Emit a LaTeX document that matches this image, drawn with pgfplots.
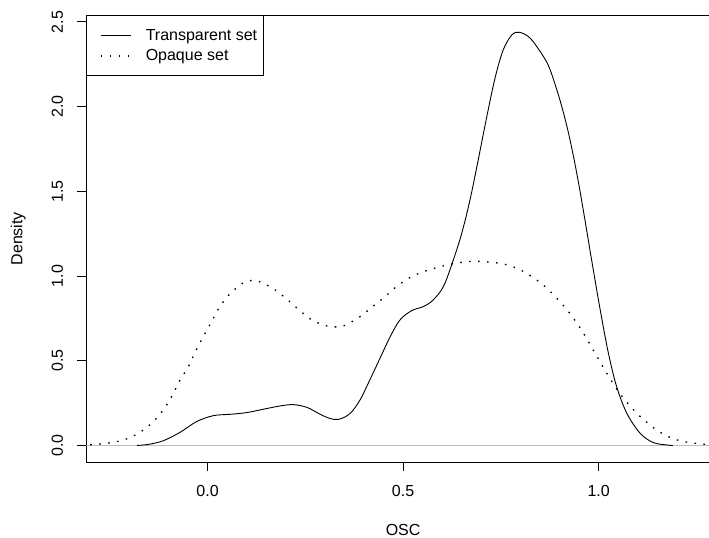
\documentclass[border=0pt]{standalone}
\usepackage{fontspec}
\setmainfont{Liberation Sans}
\usepackage{pgfplots}
\pgfplotsset{compat=1.18}
\newcommand{\fs}{\fontsize{16bp}{19bp}\selectfont}
\pgfplotstableread{
x y
-0.180 0.000
-0.150 0.007
-0.113 0.028
-0.070 0.078
-0.028 0.141
0.015 0.176
0.058 0.184
0.100 0.194
0.143 0.214
0.185 0.233
0.219 0.241
0.254 0.225
0.288 0.184
0.312 0.160
0.335 0.154
0.364 0.188
0.390 0.269
0.415 0.387
0.441 0.515
0.467 0.642
0.492 0.741
0.522 0.796
0.552 0.820
0.577 0.859
0.603 0.938
0.627 1.085
0.650 1.253
0.671 1.449
0.692 1.685
0.714 1.941
0.735 2.168
0.756 2.335
0.778 2.423
0.797 2.439
0.825 2.404
0.859 2.295
0.876 2.217
0.901 2.039
0.923 1.843
0.944 1.607
0.965 1.331
0.982 1.095
1.004 0.800
1.025 0.544
1.046 0.347
1.072 0.190
1.106 0.072
1.140 0.017
1.178 0.002
1.190 0.000
}\transparent
\pgfplotstableread{
x y
-0.300 0.004
-0.258 0.013
-0.215 0.032
-0.177 0.072
-0.143 0.131
-0.113 0.210
-0.092 0.288
-0.070 0.387
-0.049 0.465
-0.032 0.550
-0.011 0.642
0.009 0.725
0.030 0.814
0.056 0.892
0.088 0.955
0.109 0.973
0.130 0.969
0.168 0.926
0.202 0.865
0.234 0.800
0.268 0.739
0.306 0.705
0.328 0.700
0.349 0.707
0.386 0.754
0.420 0.816
0.454 0.879
0.485 0.941
0.522 0.997
0.560 1.032
0.603 1.060
0.646 1.080
0.688 1.087
0.748 1.075
0.791 1.046
0.829 0.997
0.863 0.938
0.893 0.869
0.923 0.790
0.957 0.678
0.991 0.544
1.025 0.410
1.059 0.292
1.102 0.180
1.148 0.092
1.187 0.043
1.225 0.020
1.272 0.007
1.310 0.002
}\opaque
\begin{document}
\begin{tikzpicture}
\useasboundingbox (0,0) rectangle (709bp,538bp);
\begin{axis}[
  at={(86.3bp,76bp)}, anchor=south west,
  scale only axis, width=633.6bp, height=446.5bp,
  xmin=-0.31, xmax=1.31, ymin=-0.0976, ymax=2.538,
  axis line style={line width=0.9bp},
  xtick={0,0.5,1}, xticklabels={0.0,0.5,1.0},
  ytick={0,0.5,1,1.5,2,2.5}, yticklabels={0.0,0.5,1.0,1.5,2.0,2.5},
  tick align=outside, xtick pos=bottom, ytick pos=left,
  major tick length=9bp,
  tick style={line width=0.9bp, black},
  /pgf/number format/assume math mode=true,
  ticklabel style={font=\fs},
  xticklabel style={anchor=north, inner sep=0pt, yshift=-14bp},
  yticklabel style={rotate=90, anchor=south, inner xsep=0bp, inner ysep=14bp},
  xlabel={OSC}, ylabel={Density},
  every axis x label/.style={at={(axis description cs:0.5,-0.1525)}, anchor=center, inner sep=0bp, font=\fs},
  every axis y label/.style={at={(axis description cs:-0.1073,0.5)}, rotate=90, anchor=center, inner sep=0bp, font=\fs},
  legend style={at={(0,1)}, anchor=north west, draw=black, line width=0.9bp, fill=white,
    inner xsep=0bp, inner ysep=10bp, font=\fs, row sep=0bp,
    nodes={inner xsep=0bp, inner ysep=2.5bp, text height=11.6bp, text depth=3.4bp}},
  legend cell align=left,
  legend image code/.code={\path[draw=none, fill=none] (-14bp,-5.7bp) rectangle (45bp,0bp); \draw[#1] (0bp,0bp) -- (30bp,0bp);},
]
\addplot[color={rgb,255:red,190;green,190;blue,190}, line width=0.9bp, forget plot] coordinates {(-0.31,0) (1.31,0)};
\addplot[black, line width=0.9bp, smooth, tension=0.55] table[x=x,y=y] {\transparent};
\addlegendentry{Transparent set\kern6bp}
\addplot[black, line width=1.3bp, line cap=butt, dash pattern=on 1.6bp off 7.4bp, smooth, tension=0.55] table[x=x,y=y] {\opaque};
\addlegendentry{Opaque set\kern6bp}
\end{axis}
\end{tikzpicture}
\end{document}
